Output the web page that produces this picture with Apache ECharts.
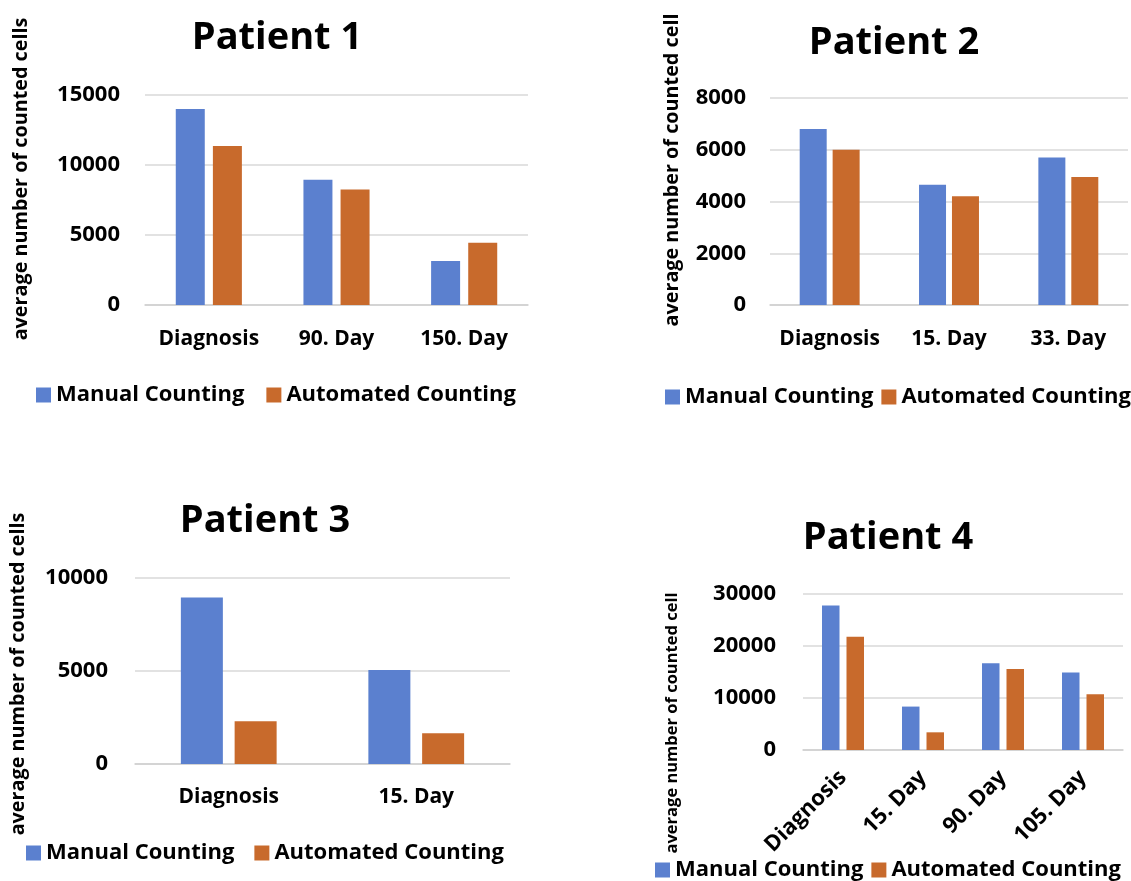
<!DOCTYPE html>
<html>
<head>
<meta charset="utf-8">
<script src="https://cdn.jsdelivr.net/npm/echarts@6/dist/echarts.min.js"></script>
<style>
  html, body { margin: 0; padding: 0; background: #ffffff; }
  #chart { width: 1131px; height: 881px; }
</style>
</head>
<body>
<div id="chart"></div>
<script>
// ---- Data ----
const seriesNames = ['Manual Counting', 'Automated Counting'];

const p1Categories = ['Diagnosis', '90. Day', '150. Day'];
const p1Manual = [14000, 8950, 3150];
const p1Automated = [11350, 8250, 4450];

const p2Categories = ['Diagnosis', '15. Day', '33. Day'];
const p2Manual = [6800, 4650, 5700];
const p2Automated = [6000, 4200, 4950];

const p3Categories = ['Diagnosis', '15. Day'];
const p3Manual = [8950, 5050];
const p3Automated = [2300, 1650];

const p4Categories = ['Diagnosis', '15. Day', '90. Day', '105. Day'];
const p4Manual = [27800, 8350, 16700, 14900];
const p4Automated = [21800, 3400, 15600, 10700];

const titles = ['Patient 1', 'Patient 2', 'Patient 3', 'Patient 4'];
const yNames = ['average number of counted cells', 'average number of counted cell',
                'average number of counted cells', 'average number of counted cell'];
const yMax = [15000, 8000, 10000, 30000];
const yInterval = [5000, 2000, 5000, 10000];

// ---- Layout ----
const FONT = '"Open Sans", "Liberation Sans", sans-serif';
const BLUE = '#5B80CF';
const ORANGE = '#C86A2C';

const panels = [
  { cats: p1Categories, m: p1Manual, a: p1Automated,
    grid: { left: 145, top: 95, width: 383, height: 210 }, barWidth: 29, barGap: '28%',
    title: [272, 35], yname: [21, 179, 19.8], legend: [36, 384, 22], rotate: 0, labelMargin: 24, yMargin: 25, xFont: 21 },
  { cats: p2Categories, m: p2Manual, a: p2Automated,
    grid: { left: 770, top: 98, width: 358, height: 207 }, barWidth: 27, barGap: '22%',
    title: [889, 40], yname: [672, 170, 19.8], legend: [665, 386, 8], rotate: 0, labelMargin: 24, yMargin: 24, xFont: 21 },
  { cats: p3Categories, m: p3Manual, a: p3Automated,
    grid: { left: 135, top: 578, width: 375, height: 186 }, barWidth: 42, barGap: '28%',
    title: [260, 518], yname: [18, 674, 19.8], legend: [26, 842, 20], rotate: 0, labelMargin: 23, yMargin: 27, xFont: 21 },
  { cats: p4Categories, m: p4Manual, a: p4Automated,
    grid: { left: 803, top: 594, width: 320, height: 156 }, barWidth: 17.5, barGap: '40%',
    title: [883, 535], yname: [672, 723, 16.5], legend: [655, 859, 8], rotate: 45, labelMargin: 24, yMargin: 27, xFont: 22 }
];

const option = {
  backgroundColor: '#ffffff',
  animation: false,
  textStyle: { fontFamily: FONT },
  title: [], grid: [], xAxis: [], yAxis: [], series: [], legend: [], graphic: []
};

panels.forEach((p, i) => {
  option.title.push({
    text: titles[i], left: p.title[0], top: p.title[1] - 21, textAlign: 'center',
    textStyle: { fontFamily: FONT, fontWeight: 'bold', fontSize: 38, color: '#000' }
  });
  option.grid.push(Object.assign({ containLabel: false }, p.grid));
  option.xAxis.push({
    type: 'category', gridIndex: i, data: p.cats,
    axisTick: { show: false },
    axisLine: { lineStyle: { color: '#cfcfcf', width: 1.5 } },
    axisLabel: { fontFamily: FONT, fontWeight: 'bold', fontSize: p.xFont, color: '#000',
                 margin: p.labelMargin, rotate: p.rotate, interval: 0 }
  });
  option.yAxis.push({
    type: 'value', gridIndex: i, min: 0, max: yMax[i], interval: yInterval[i],
    axisLine: { show: false }, axisTick: { show: false },
    splitLine: { lineStyle: { color: '#d9d9d9', width: 1.5 } },
    axisLabel: { fontFamily: FONT, fontWeight: 'bold', fontSize: 22, color: '#000', margin: p.yMargin,
                 formatter: v => String(v) }
  });
  option.series.push({
    name: seriesNames[0], type: 'bar', xAxisIndex: i, yAxisIndex: i, data: p.m,
    barWidth: p.barWidth, barGap: p.barGap, itemStyle: { color: BLUE }
  });
  option.series.push({
    name: seriesNames[1], type: 'bar', xAxisIndex: i, yAxisIndex: i, data: p.a,
    barWidth: p.barWidth, barGap: p.barGap, itemStyle: { color: ORANGE }
  });
  option.legend.push({
    data: seriesNames, left: p.legend[0], top: p.legend[1], itemGap: p.legend[2],
    icon: 'rect', itemWidth: 15, itemHeight: 15, selectedMode: false, padding: 0,
    textStyle: { fontFamily: FONT, fontWeight: 'bold', fontSize: 22, color: '#000' }
  });
  option.graphic.push({
    type: 'text', x: p.yname[0], y: p.yname[1], rotation: Math.PI / 2,
    style: { text: yNames[i], textAlign: 'center', textVerticalAlign: 'middle',
             font: 'bold ' + p.yname[2] + 'px ' + FONT, fill: '#000' }
  });
});

const chart = echarts.init(document.getElementById('chart'), null, { renderer: 'canvas' });
chart.setOption(option);
</script>
</body>
</html>
